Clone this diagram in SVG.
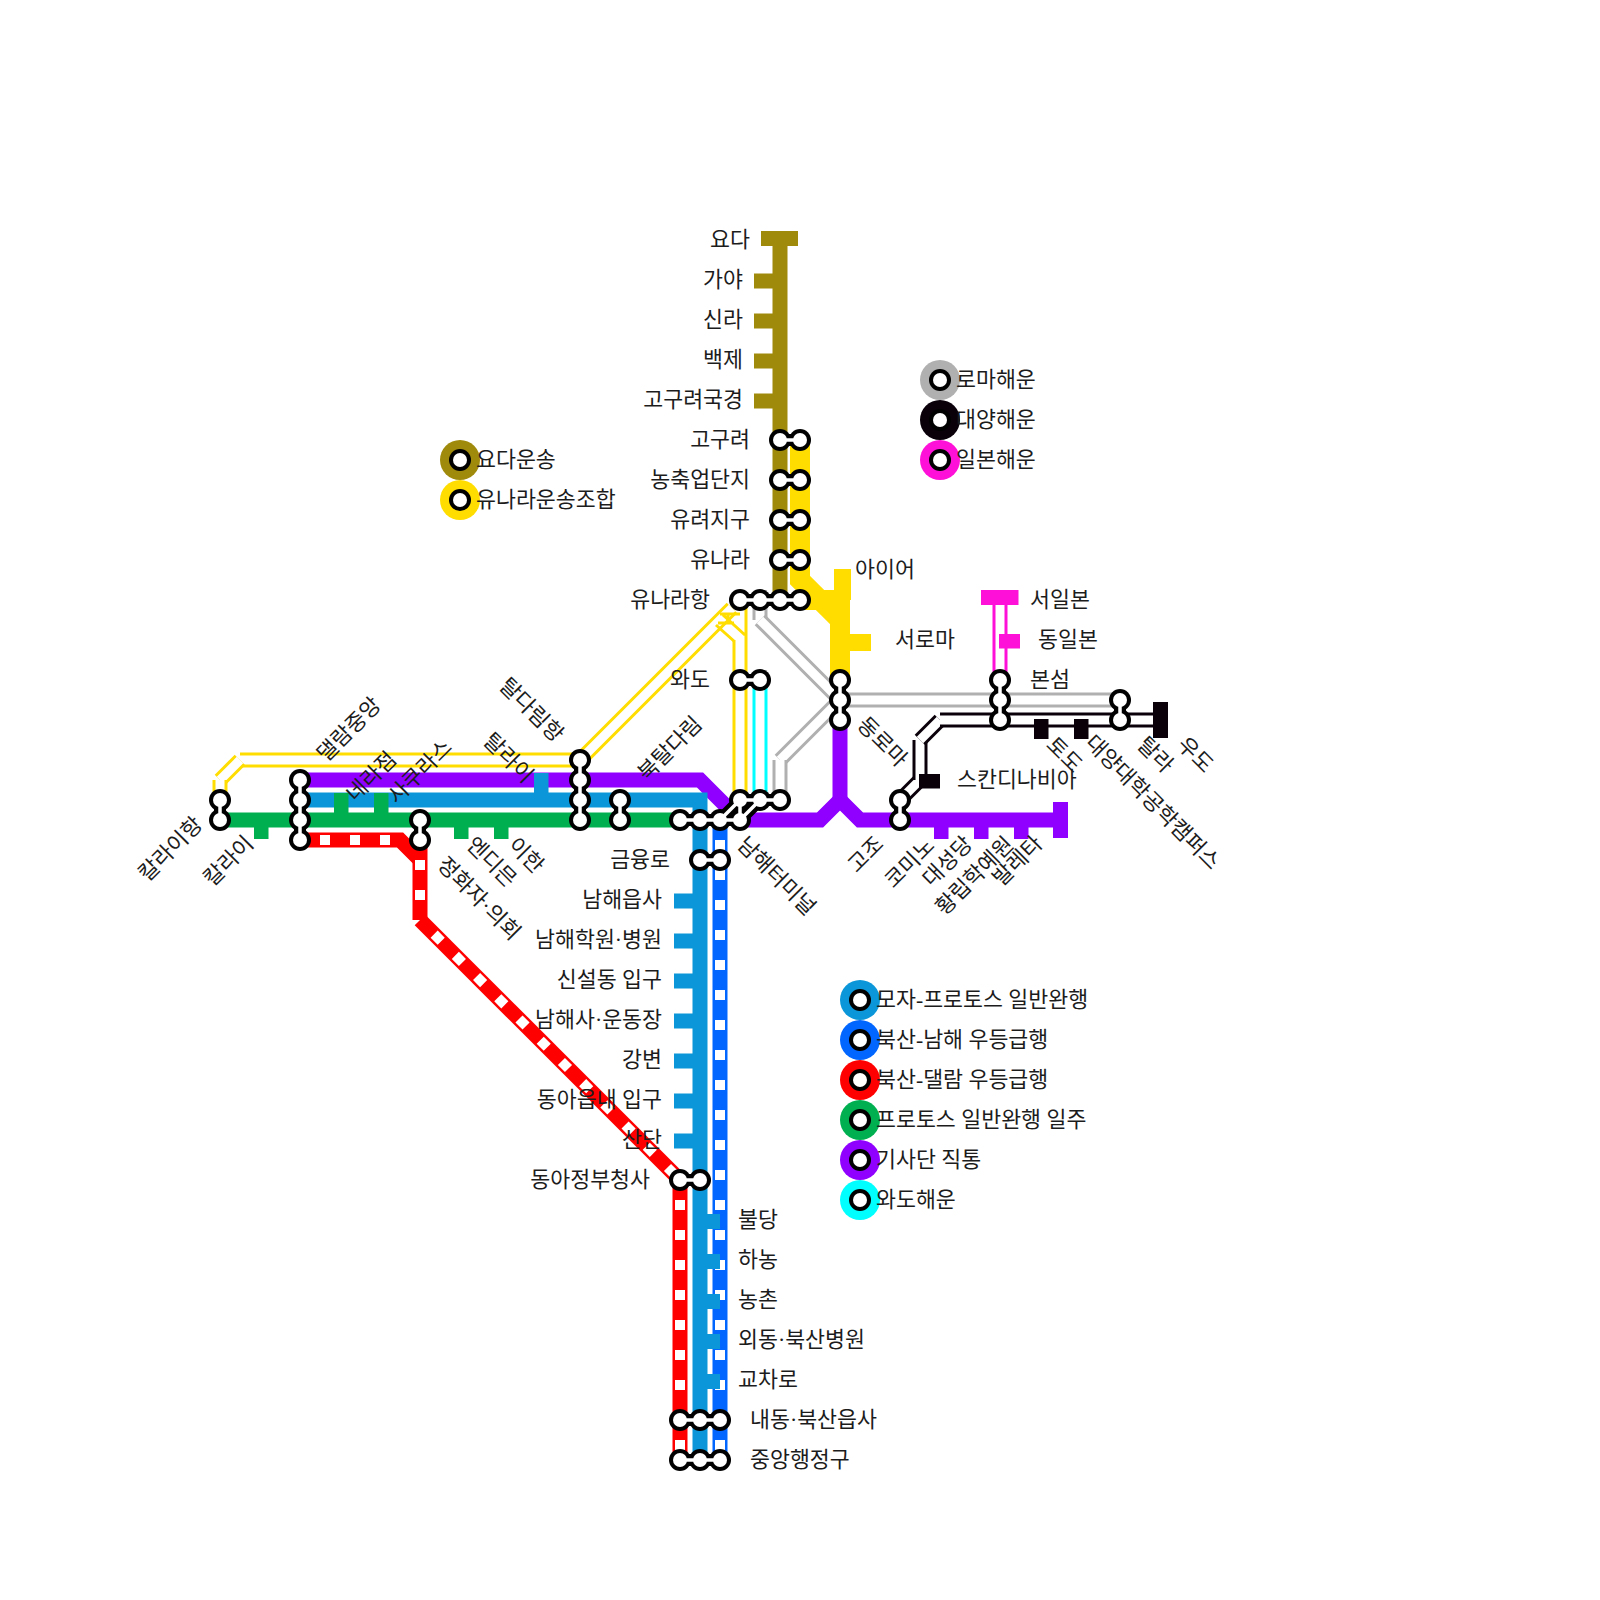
<svg xmlns="http://www.w3.org/2000/svg" width="1600" height="1600" viewBox="0 0 1600 1600">
<style>
text{font-family:"Liberation Serif","Noto Sans CJK KR",serif;font-size:21.7px;fill:#1c1c1c}
.e{text-anchor:end}
line,polyline,path{fill:none}
.ol{stroke:#a08a0b;stroke-width:15}.ye{stroke:#ffdd00;stroke-width:20}
.bl{stroke:#0a96d8;stroke-width:15}.gr{stroke:#00b050;stroke-width:15}.pu{stroke:#8f00ff;stroke-width:15}
.re{stroke:#ff0000;stroke-width:15}.b2{stroke:#0066ff;stroke-width:15}
.da{stroke:#fff;stroke-width:10;stroke-dasharray:10 20;stroke-dashoffset:10}
.dy{stroke:#ffdd00;stroke-width:15}.dg{stroke:#b0b0b0;stroke-width:15}.dk{stroke:#0a000a;stroke-width:15}.dm{stroke:#ff10d8;stroke-width:15}.dc{stroke:#00ffff;stroke-width:15}
.in{stroke:#fff;stroke-width:9}
.ty{stroke:#ffdd00;stroke-width:3}
.tol{fill:#a08a0b}.tye{fill:#ffdd00}.tbl{fill:#0a96d8}.tgr{fill:#00b050}.tpu{fill:#8f00ff}.tdk{fill:#0a000a}.tdm{fill:#ff10d8}
.sb{stroke:#000;stroke-width:12}.sw{stroke:#fff;stroke-width:3.5}
.cb{fill:#000}.cw{fill:#fff}
</style>
<defs>
<g id="st"><circle class="cb" r="11"/><circle class="cw" r="7"/></g>
</defs>
<g id="connectors">
<path class="dy" d="M732 608L580 760"/><path class="in" d="M732 608L580 760"/>
<path class="dy" d="M580 760H240"/><path class="in" d="M580 760H240"/>
<path class="dy" d="M240 760L220 780"/><path class="in" d="M240 760L220 780"/>
<path class="dy" d="M220 780V800"/><path class="in" d="M220 780V800"/>
<path class="ty" d="M716 625L735 642M723 615L745 635M720 614H740M718 623H734M728 614V623M746 600V640"/>
<path class="dy" d="M740 640V800"/><path class="in" d="M740 640V800"/>
<path class="dc" d="M760 680V800"/><path class="in" d="M760 680V800"/>
<path class="dg" d="M760 600V620"/><path class="in" d="M760 600V620"/>
<path class="dg" d="M760 620L840 700"/><path class="in" d="M760 620L840 700"/>
<path class="dg" d="M840 700H1120"/><path class="in" d="M840 700H1120"/>
<path class="dg" d="M840 700L780 760"/><path class="in" d="M840 700L780 760"/>
<path class="dg" d="M780 760V800"/><path class="in" d="M780 760V800"/>
<path class="dk" d="M900 800L920 780"/><path class="in" d="M900 800L920 780"/>
<path class="dk" d="M920 780V740"/><path class="in" d="M920 780V740"/>
<path class="dk" d="M920 740L940 720"/><path class="in" d="M920 740L940 720"/>
<path class="dk" d="M940 720H1160"/><path class="in" d="M940 720H1160"/>
<path class="dm" d="M1000 600V680"/><path class="in" d="M1000 600V680"/>
<path class="ol" d="M780 240V600"/>
<path class="ye" d="M800 440V580L840 620V680"/>
<path class="ye" d="M800 600H840M840 590V620"/>
<path class="pu" d="M300 780H700L740 820H820L840 800L860 820H1060"/>
<path class="pu" d="M840 720V800"/>
<path class="bl" d="M300 800H700V1460"/>
<path class="gr" d="M220 820H680"/>
<path class="b2" d="M720 820V1460"/><path class="da" d="M720 820V1460"/>
<path class="re" d="M300 840H400L420 860"/><path class="da" d="M300 840H400"/>
<path class="re" d="M420 840V920"/><path class="da" d="M420 840V920"/>
<path class="re" d="M420 920L680 1180"/><path class="da" d="M420 920L680 1180"/>
<path class="re" d="M680 1180V1460"/><path class="da" d="M680 1180V1460"/>
</g>
<g id="ticks">
<rect class="tol" x="761" y="231" width="37" height="15"/>
<rect class="tol" x="754" y="273.5" width="26" height="15"/>
<rect class="tol" x="754" y="313.5" width="26" height="15"/>
<rect class="tol" x="754" y="353.5" width="26" height="15"/>
<rect class="tol" x="754" y="393.5" width="26" height="15"/>
<rect class="tye" x="834" y="569" width="17" height="31"/>
<rect class="tye" x="850" y="634" width="21" height="17"/>
<rect class="tbl" x="674" y="893.5" width="20" height="15"/>
<rect class="tbl" x="674" y="933.5" width="20" height="15"/>
<rect class="tbl" x="674" y="973.5" width="20" height="15"/>
<rect class="tbl" x="674" y="1013.5" width="20" height="15"/>
<rect class="tbl" x="674" y="1053.5" width="20" height="15"/>
<rect class="tbl" x="674" y="1093.5" width="20" height="15"/>
<rect class="tbl" x="674" y="1133.5" width="20" height="15"/>
<rect class="tbl" x="700" y="1214" width="20" height="15"/>
<rect class="tbl" x="700" y="1254" width="20" height="15"/>
<rect class="tbl" x="700" y="1294" width="20" height="15"/>
<rect class="tbl" x="700" y="1334" width="20" height="15"/>
<rect class="tbl" x="700" y="1374" width="20" height="15"/>
<rect class="tbl" x="534" y="773" width="14.5" height="20"/>
<rect class="tgr" x="254" y="820" width="14.5" height="19"/>
<rect class="tgr" x="334" y="793" width="14.5" height="20"/>
<rect class="tgr" x="374" y="793" width="14.5" height="20"/>
<rect class="tgr" x="454" y="820" width="14.5" height="19"/>
<rect class="tgr" x="494" y="820" width="14.5" height="19"/>
<rect class="tpu" x="934" y="820" width="14.5" height="19"/>
<rect class="tpu" x="974" y="820" width="14.5" height="19"/>
<rect class="tpu" x="1014" y="820" width="14.5" height="19"/>
<rect class="tpu" x="1053" y="802" width="15" height="36"/>
<rect class="tdm" x="981" y="590" width="37.5" height="15"/>
<rect class="tdm" x="999" y="634" width="21" height="14.5"/>
<rect class="tdk" x="1034" y="719" width="14.5" height="20"/>
<rect class="tdk" x="1074" y="719" width="14.5" height="20"/>
<rect class="tdk" x="1153" y="702" width="15" height="36"/>
<rect class="tdk" x="919" y="774" width="21" height="14.5"/>
</g>
<g id="n-goguryeo"><path class="sb" d="M780 440H800"/><use href="#st" x="780" y="440"/><use href="#st" x="800" y="440"/><path class="sw" d="M780 440H800"/><text class="e" x="750" y="447">고구려</text></g>
<g id="n-nongchuk"><path class="sb" d="M780 480H800"/><use href="#st" x="780" y="480"/><use href="#st" x="800" y="480"/><path class="sw" d="M780 480H800"/><text class="e" x="750" y="487">농축업단지</text></g>
<g id="n-yuryeo"><path class="sb" d="M780 520H800"/><use href="#st" x="780" y="520"/><use href="#st" x="800" y="520"/><path class="sw" d="M780 520H800"/><text class="e" x="750" y="527">유려지구</text></g>
<g id="n-yunara"><path class="sb" d="M780 560H800"/><use href="#st" x="780" y="560"/><use href="#st" x="800" y="560"/><path class="sw" d="M780 560H800"/><text class="e" x="750" y="567">유나라</text></g>
<g id="n-yunarahang"><path class="sb" d="M740 600H800"/><use href="#st" x="740" y="600"/><use href="#st" x="760" y="600"/><use href="#st" x="780" y="600"/><use href="#st" x="800" y="600"/><path class="sw" d="M740 600H800"/><text class="e" x="710" y="607">유나라항</text></g>
<g id="n-wado"><path class="sb" d="M740 680H760"/><use href="#st" x="740" y="680"/><use href="#st" x="760" y="680"/><path class="sw" d="M740 680H760"/><text class="e" x="710" y="687">와도</text></g>
<g id="n-dongroma"><path class="sb" d="M840 680V720"/><use href="#st" x="840" y="680"/><use href="#st" x="840" y="700"/><use href="#st" x="840" y="720"/><path class="sw" d="M840 680V720"/><text transform="translate(861 721) rotate(45)" y="7">동로마</text></g>
<g id="n-bonseom"><path class="sb" d="M1000 680V720"/><use href="#st" x="1000" y="680"/><use href="#st" x="1000" y="700"/><use href="#st" x="1000" y="720"/><path class="sw" d="M1000 680V720"/><text x="1030" y="687">본섬</text></g>
<g id="n-talla"><path class="sb" d="M1120 700V720"/><use href="#st" x="1120" y="700"/><use href="#st" x="1120" y="720"/><path class="sw" d="M1120 700V720"/><text transform="translate(1141 741) rotate(45)" y="7">탈라</text></g>
<g id="n-comino"><path class="sb" d="M900 800V820"/><use href="#st" x="900" y="800"/><use href="#st" x="900" y="820"/><path class="sw" d="M900 800V820"/><text class="e" transform="translate(931 842) rotate(-45)" y="7">코미노</text></g>
<g id="n-kalaihang"><path class="sb" d="M220 800V820"/><use href="#st" x="220" y="800"/><use href="#st" x="220" y="820"/><path class="sw" d="M220 800V820"/><text class="e" transform="translate(199 821) rotate(-45)" y="7">칼라이항</text></g>
<g id="n-daellam"><path class="sb" d="M300 780V840"/><use href="#st" x="300" y="780"/><use href="#st" x="300" y="800"/><use href="#st" x="300" y="820"/><use href="#st" x="300" y="840"/><path class="sw" d="M300 780V840"/><text transform="translate(321 758) rotate(-45)" y="7">댈람중앙</text></g>
<g id="n-junghwa"><path class="sb" d="M420 820V840"/><use href="#st" x="420" y="820"/><use href="#st" x="420" y="840"/><path class="sw" d="M420 820V840"/><text transform="translate(441 861) rotate(45)" y="7">정화자·의회</text></g>
<g id="n-taldarim"><path class="sb" d="M580 760V820"/><use href="#st" x="580" y="760"/><use href="#st" x="580" y="780"/><use href="#st" x="580" y="800"/><use href="#st" x="580" y="820"/><path class="sw" d="M580 760V820"/><text transform="translate(503 682) rotate(45)" y="7">탈다림항</text></g>
<g id="n-buktal"><path class="sb" d="M620 800V820"/><use href="#st" x="620" y="800"/><use href="#st" x="620" y="820"/><path class="sw" d="M620 800V820"/><text transform="translate(642 777) rotate(-45)" y="7">북탈다림</text></g>
<g id="n-namhae"><path class="sb" d="M680 820H740M720 820L740 800M740 820L760 800M740 800V820M740 800H780"/><use href="#st" x="680" y="820"/><use href="#st" x="700" y="820"/><use href="#st" x="720" y="820"/><use href="#st" x="740" y="820"/><use href="#st" x="740" y="800"/><use href="#st" x="760" y="800"/><use href="#st" x="780" y="800"/><path class="sw" d="M680 820H740M720 820L740 800M740 820L760 800M740 800V820M740 800H780"/><text transform="translate(741 841) rotate(45)" y="7">남해터미널</text></g>
<g id="n-geumyung"><path class="sb" d="M700 860H720"/><use href="#st" x="700" y="860"/><use href="#st" x="720" y="860"/><path class="sw" d="M700 860H720"/><text class="e" x="670" y="867">금융로</text></g>
<g id="n-dongagov"><path class="sb" d="M680 1180H700"/><use href="#st" x="680" y="1180"/><use href="#st" x="700" y="1180"/><path class="sw" d="M680 1180H700"/><text class="e" x="650" y="1187">동아정부청사</text></g>
<g id="n-naedong"><path class="sb" d="M680 1420H720"/><use href="#st" x="680" y="1420"/><use href="#st" x="700" y="1420"/><use href="#st" x="720" y="1420"/><path class="sw" d="M680 1420H720"/><text x="750" y="1427">내동·북산읍사</text></g>
<g id="n-jungang"><path class="sb" d="M680 1460H720"/><use href="#st" x="680" y="1460"/><use href="#st" x="700" y="1460"/><use href="#st" x="720" y="1460"/><path class="sw" d="M680 1460H720"/><text x="750" y="1467">중앙행정구</text></g>
<g id="labels">
<text class="e" x="750" y="247">요다</text>
<text class="e" x="743" y="287">가야</text>
<text class="e" x="743" y="327">신라</text>
<text class="e" x="743" y="367">백제</text>
<text class="e" x="743" y="407">고구려국경</text>
<text x="855" y="577">아이어</text>
<text x="895" y="647">서로마</text>
<text x="1030" y="607">서일본</text>
<text x="1038" y="647">동일본</text>
<text x="957" y="787">스칸디나비아</text>
<text class="e" x="662" y="907">남해읍사</text>
<text class="e" x="662" y="947">남해학원·병원</text>
<text class="e" x="662" y="987">신설동 입구</text>
<text class="e" x="662" y="1027">남해사·운동장</text>
<text class="e" x="662" y="1067">강변</text>
<text class="e" x="662" y="1107">동아읍내 입구</text>
<text class="e" x="662" y="1147">산단</text>
<text x="738" y="1227">불당</text>
<text x="738" y="1267">하농</text>
<text x="738" y="1307">농촌</text>
<text x="738" y="1347">외동·북산병원</text>
<text x="738" y="1387">교차로</text>
<text class="e" transform="translate(250 840) rotate(-45)" y="7">칼라이</text>
<text transform="translate(350.5 798) rotate(-45)" y="7">네라점</text>
<text transform="translate(392 800) rotate(-45)" y="7">사쿠라스</text>
<text transform="translate(487 737) rotate(45)" y="7">탈라이</text>
<text transform="translate(470 841) rotate(45)" y="7">엔디믄</text>
<text transform="translate(511.7 841.5) rotate(45)" y="7">이한</text>
<text class="e" transform="translate(880 840.5) rotate(-45)" y="7">고조</text>
<text class="e" transform="translate(969 840.5) rotate(-45)" y="7">대성당</text>
<text class="e" transform="translate(1010 840.7) rotate(-45)" y="7">황립학예원</text>
<text class="e" transform="translate(1039 840) rotate(-45)" y="7">발레타</text>
<text transform="translate(1050 741) rotate(45)" y="7">토도</text>
<text transform="translate(1089 739) rotate(45)" y="7">대양대학공학캠퍼스</text>
<text transform="translate(1181 741) rotate(45)" y="7">우도</text>
</g>
<g id="legend">
<g id="lg-roma"><circle cx="940" cy="380" r="20" fill="#b0b0b0"/><use href="#st" x="940" y="380"/><text x="956" y="387">로마해운</text></g>
<g id="lg-daeyang"><circle cx="940" cy="420" r="20" fill="#0a000a"/><use href="#st" x="940" y="420"/><text x="956" y="427">대양해운</text></g>
<g id="lg-ilbon"><circle cx="940" cy="460" r="20" fill="#ff10d8"/><use href="#st" x="940" y="460"/><text x="956" y="467">일본해운</text></g>
<g id="lg-yoda"><circle cx="460" cy="460" r="20" fill="#a08a0b"/><use href="#st" x="460" y="460"/><text x="476" y="467">요다운송</text></g>
<g id="lg-yunara"><circle cx="460" cy="500" r="20" fill="#ffdd00"/><use href="#st" x="460" y="500"/><text x="476" y="507">유나라운송조합</text></g>
<g id="lg-moja"><circle cx="860" cy="1000" r="20" fill="#0a96d8"/><use href="#st" x="860" y="1000"/><text x="876" y="1007">모자-프로토스 일반완행</text></g>
<g id="lg-buknam"><circle cx="860" cy="1040" r="20" fill="#0066ff"/><use href="#st" x="860" y="1040"/><text x="876" y="1047">북산-남해 우등급행</text></g>
<g id="lg-bukdael"><circle cx="860" cy="1080" r="20" fill="#ff0000"/><use href="#st" x="860" y="1080"/><text x="876" y="1087">북산-댈람 우등급행</text></g>
<g id="lg-proto"><circle cx="860" cy="1120" r="20" fill="#00b050"/><use href="#st" x="860" y="1120"/><text x="876" y="1127">프로토스 일반완행 일주</text></g>
<g id="lg-gisa"><circle cx="860" cy="1160" r="20" fill="#8f00ff"/><use href="#st" x="860" y="1160"/><text x="876" y="1167">기사단 직통</text></g>
<g id="lg-wado"><circle cx="860" cy="1200" r="20" fill="#00ffff"/><use href="#st" x="860" y="1200"/><text x="876" y="1207">와도해운</text></g>
</g>
</svg>
